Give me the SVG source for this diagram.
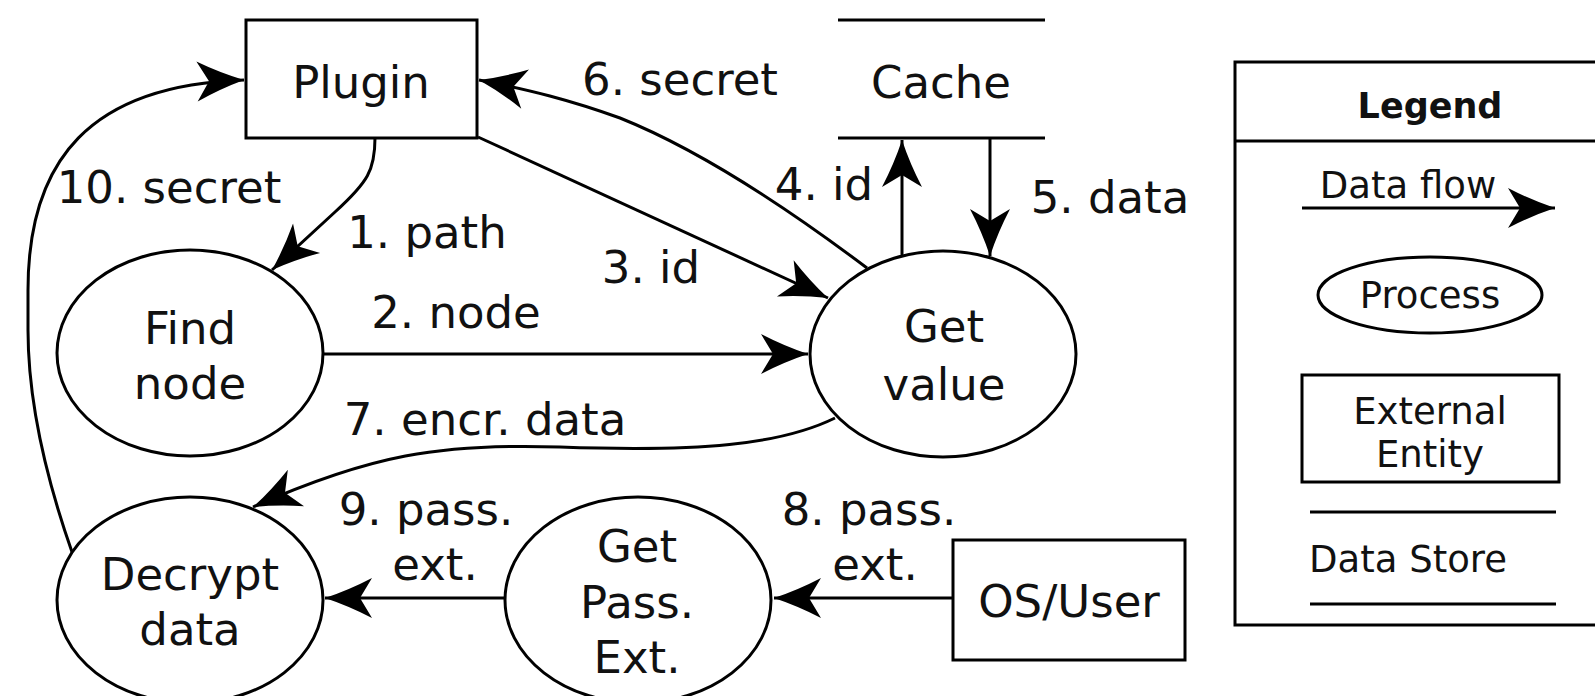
<svg xmlns="http://www.w3.org/2000/svg" width="1595" height="696" viewBox="0 0 1595 696">
<style>
  .shape{fill:#fff;stroke:#000;stroke-width:3}
  .line{fill:none;stroke:#000;stroke-width:3}
  .flow{fill:none;stroke:#000;stroke-width:3;marker-end:url(#arrow)}
  text{font-family:"DejaVu Sans","Noto Sans",sans-serif;fill:#111}
  .lbl{font-size:45px}
  .c{text-anchor:middle}
  .leg{font-size:37px}
</style>
<defs>
  <marker id="arrow" markerUnits="userSpaceOnUse" viewBox="-52 -25 57 50" markerWidth="57" markerHeight="50" refX="0" refY="0" orient="auto">
    <path d="M0,0 Q-24,-8 -47,-20 L-35,0 L-47,20 Q-24,8 0,0 Z" fill="#000"/>
  </marker>
</defs>
<rect width="1595" height="696" fill="#fff"/>

<g id="connectors">
  <path id="e10" class="flow" d="M72,552 C45,475 28,400 28,330 L28,290 C28,160 90,85 244,80"/>
  <path id="e1" class="flow" d="M375,138 C375,170 368,182 335,212 L272,270"/>
  <path id="e6" class="flow" d="M867,268 C790,210 700,150 620,118 C570,100 530,90 479,80"/>
  <path id="e3" class="flow" d="M478,137 L828,298"/>
  <path id="e4" class="flow" d="M902,256 L902,140"/>
  <path id="e5" class="flow" d="M990,138 L990,256"/>
  <path id="e2" class="flow" d="M323,354 L808,354"/>
  <path id="e7" class="flow" d="M835,418 C780,445 700,452 560,447 C440,443 370,455 253,507"/>
  <path id="e9" class="flow" d="M505,598 L325,598"/>
  <path id="e8" class="flow" d="M953,598 L774,598"/>
  <text class="lbl c" x="680" y="95">6. secret</text>
  <text class="lbl c" x="169" y="203">10. secret</text>
  <text class="lbl c" x="427" y="248">1. path</text>
  <text class="lbl c" x="824" y="200">4. id</text>
  <text class="lbl c" x="1110" y="213">5. data</text>
  <text class="lbl c" x="651" y="283">3. id</text>
  <text class="lbl c" x="456" y="328">2. node</text>
  <text class="lbl c" x="485" y="435">7. encr. data</text>
  <text class="lbl c" x="426" y="525">9. pass.</text>
  <text class="lbl c" x="435" y="580">ext.</text>
  <text class="lbl c" x="869" y="525">8. pass.</text>
  <text class="lbl c" x="875" y="580">ext.</text>
</g>

<g id="plugin">
  <rect class="shape" x="246" y="20" width="231" height="118"/>
  <text class="lbl c" x="361" y="98">Plugin</text>
</g>
<g id="cache">
  <line class="line" x1="838" y1="20" x2="1045" y2="20"/>
  <line class="line" x1="838" y1="138" x2="1045" y2="138"/>
  <text class="lbl c" x="941" y="98">Cache</text>
</g>
<g id="find-node">
  <ellipse class="shape" cx="190" cy="353" rx="133" ry="103"/>
  <text class="lbl c" x="190" y="344">Find</text>
  <text class="lbl c" x="190" y="399">node</text>
</g>
<g id="get-value">
  <ellipse class="shape" cx="943" cy="354" rx="133" ry="103"/>
  <text class="lbl c" x="944" y="342">Get</text>
  <text class="lbl c" x="944" y="400">value</text>
</g>
<g id="decrypt-data">
  <ellipse class="shape" cx="190" cy="600" rx="133" ry="103"/>
  <text class="lbl c" x="190" y="590">Decrypt</text>
  <text class="lbl c" x="190" y="645">data</text>
</g>
<g id="get-pass-ext">
  <ellipse class="shape" cx="638" cy="600" rx="133" ry="103"/>
  <text class="lbl c" x="637" y="562">Get</text>
  <text class="lbl c" x="637" y="618">Pass.</text>
  <text class="lbl c" x="637" y="673">Ext.</text>
</g>
<g id="os-user">
  <rect class="shape" x="953" y="540" width="232" height="120"/>
  <text class="lbl c" x="1069" y="617">OS/User</text>
</g>

<g id="legend">
  <rect class="shape" x="1235" y="62" width="380" height="563" stroke-width="3.5"/>
  <line class="line" x1="1235" y1="141" x2="1600" y2="141"/>
  <text class="c" x="1430" y="118" font-size="35" font-weight="bold">Legend</text>
  <text class="leg c" x="1408" y="198">Data flow</text>
  <path class="flow" d="M1302,208 L1555,208"/>
  <ellipse class="shape" cx="1430" cy="295" rx="112" ry="38"/>
  <text class="leg c" x="1430" y="308">Process</text>
  <rect class="shape" x="1302" y="375" width="257" height="107"/>
  <text class="leg c" x="1430" y="424">External</text>
  <text class="leg c" x="1430" y="467">Entity</text>
  <line class="line" x1="1310" y1="512" x2="1556" y2="512"/>
  <text class="leg c" x="1408" y="572">Data Store</text>
  <line class="line" x1="1310" y1="604" x2="1556" y2="604"/>
</g>
</svg>
